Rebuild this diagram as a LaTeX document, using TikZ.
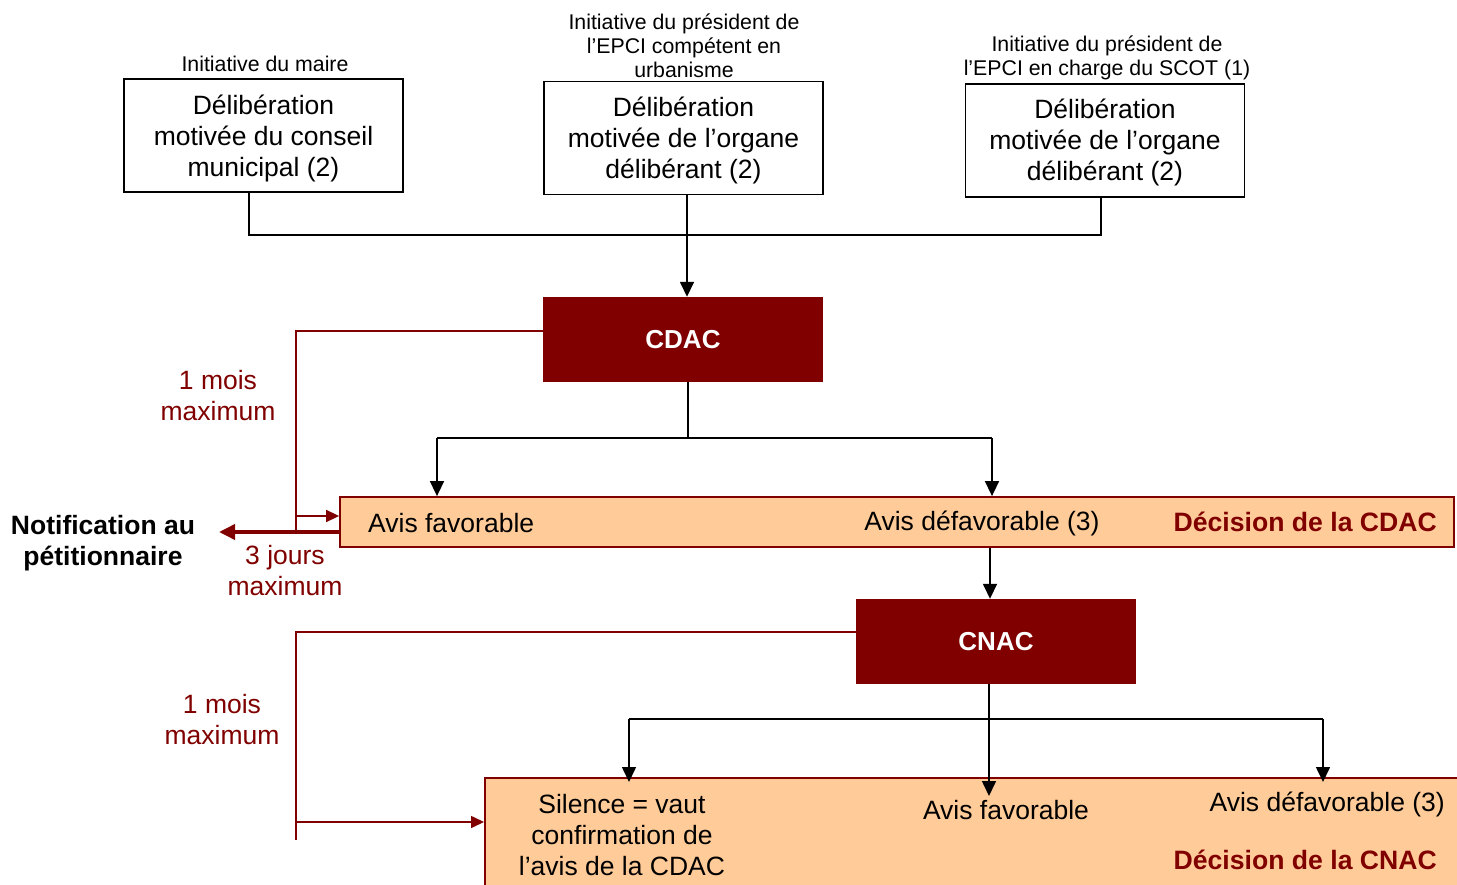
\documentclass[tikz,border=0pt]{standalone}
\usepackage{fontspec}
\setmainfont{Liberation Sans}
\usetikzlibrary{arrows.meta}
\definecolor{dred}{HTML}{800000}
\definecolor{peach}{HTML}{FFCC99}
\begin{document}
\begin{tikzpicture}[x=1pt,y=-1pt,
  big/.style={font=\fontsize{26.5}{31}\selectfont, align=center, inner sep=0pt},
  small/.style={font=\fontsize{21.3}{24}\selectfont, align=center, inner sep=0pt},
  wbox/.style={draw=black, line width=1.6pt, fill=white, minimum width=279pt, minimum height=113pt, inner sep=0pt},
  rbox/.style={fill=dred, draw=none, minimum width=280pt, minimum height=85pt, text=white, font=\fontsize{26}{31}\selectfont\bfseries, inner sep=0pt},
  pbox/.style={fill=peach, draw=dred, line width=1.8pt, inner sep=0pt},
  blk/.style={draw=black, line width=1.6pt},
  blkarr/.style={blk, -{Triangle[length=15pt,width=14pt]}},
  redl/.style={draw=dred, line width=1.6pt},
  redarr/.style={redl, -{Triangle[length=13pt,width=12pt]}},
  redtxt/.style={big, text=dred},
  dectxt/.style={inner sep=0pt, text=dred, font=\fontsize{26.6}{31}\selectfont\bfseries}
]
\useasboundingbox (0,0) rectangle (1457,885);

% top boxes
\node[wbox] (b1) at (263.5,135.5) {};
\node[big] (t1) at (263.5,138) {Délibération\\motivée du conseil\\municipal (2)};
\node[wbox] (b2) at (683.5,138) {};
\node[big] (t2) at (683.5,140) {Délibération\\motivée de l’organe\\délibérant (2)};
\node[wbox] (b3) at (1105,140.5) {};
\node[big] (t3) at (1105,142.5) {Délibération\\motivée de l’organe\\délibérant (2)};
\node[small] (l1) at (265,64) {Initiative du maire};
\node[small] (l2) at (684,46) {Initiative du président de\\l’EPCI compétent en\\urbanisme};
\node[small] (l3) at (1107,58) {Initiative du président de\\l’EPCI en charge du SCOT (1)};

% CDAC
\node[rbox] (cdac) at (683,339.5) {CDAC};
\coordinate (j1) at (249,235);
\coordinate (j3) at (1101,235);
\coordinate (j2) at (687,235);
\draw[blk] (b1.south -| j1) -- (j1) -- (j3) -- (b3.south -| j3);
\draw[blkarr] (b2.south -| j2) -- (cdac.north -| j2);

% first decision box
\node[pbox, minimum width=1114pt, minimum height=50pt] (d1) at (897,522) {};
\node[big, anchor=west] (af1) at (368,523) {Avis favorable};
\node[big] (ad1) at (982,523) {Avis défavorable (3)};
\node[dectxt, anchor=east] (dc1) at (1437,522) {Décision de la CDAC};

\coordinate (k0) at (688,438);
\coordinate (kl) at (437,438);
\coordinate (kr) at (992,438);
\draw[blk] (cdac.south -| k0) -- (k0);
\draw[blk] (kl) -- (kr);
\draw[blkarr] (kl) -- (d1.north -| kl);
\draw[blkarr] (kr) -- (d1.north -| kr);

% delay 1
\coordinate (r1) at (296,331);
\coordinate (r1b) at (296,532);
\coordinate (r1c) at (296,516);
\draw[redl] (cdac.west |- r1) -- (r1) -- (r1b);
\draw[redarr] (r1c) -- (d1.west |- r1c);
\node[redtxt] (m1) at (218,396) {1 mois\\maximum};

% notification
\node[big, font=\fontsize{26.5}{31}\selectfont\bfseries] (notif) at (103,543) {Notification au\\pétitionnaire};
\coordinate (nt) at (219,532);
\draw[draw=dred, line width=3.6pt, -{Triangle[length=16pt,width=15pt]}] (d1.west |- r1b) -- (nt);
\node[redtxt] (j3t) at (285,571) {3 jours\\maximum};

% CNAC
\node[rbox] (cnac) at (996,641.5) {CNAC};
\coordinate (c1) at (990,547);
\draw[blkarr] (d1.south -| c1) -- (cnac.north -| c1);

% bottom decision box
\node[pbox, minimum width=1000pt, minimum height=140pt, anchor=north west] (d2) at (484,777) {};
\node[big] (sil) at (622,835) {Silence = vaut\\confirmation de\\l’avis de la CDAC};
\node[big] (af2) at (1006,810) {Avis favorable};
\node[big, anchor=east] (ad2) at (1445,804) {Avis défavorable (3)};
\node[dectxt, anchor=east] (dc2) at (1437,860) {Décision de la CNAC};

\coordinate (n0) at (989,719);
\coordinate (nl) at (629,719);
\coordinate (nr) at (1323,719);
\coordinate (n0e) at (989,796);
\coordinate (nle) at (629,782);
\coordinate (nre) at (1323,782);
\draw[blkarr] (cnac.south -| n0) -- (n0e);
\draw[blk] (nl) -- (nr);
\draw[blkarr] (nl) -- (nle);
\draw[blkarr] (nr) -- (nre);

% delay 2
\coordinate (r2) at (296,632);
\coordinate (r2b) at (296,840);
\coordinate (r2c) at (296,822);
\draw[redl] (cnac.west |- r2) -- (r2) -- (r2b);
\draw[redarr] (r2c) -- (d2.west |- r2c);
\node[redtxt] (m2) at (222,720) {1 mois\\maximum};
\end{tikzpicture}
\end{document}
